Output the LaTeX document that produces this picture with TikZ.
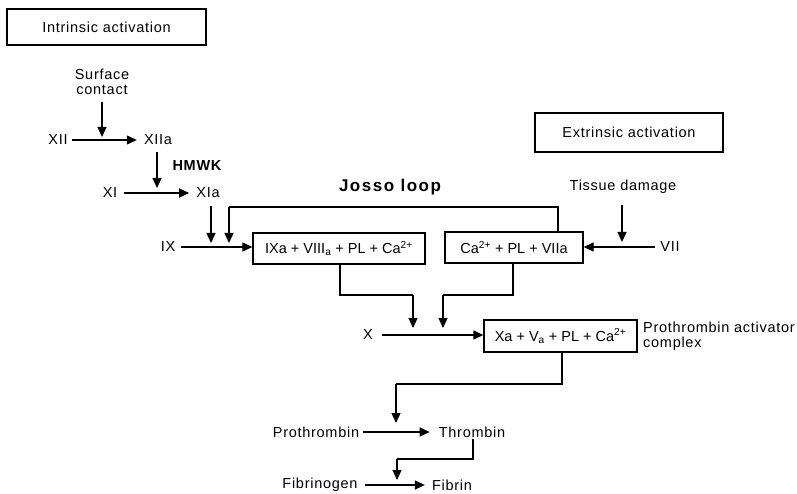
\documentclass[tikz,border=0pt]{standalone}
\usepackage{fontspec}
\setmainfont{Liberation Sans}
\usetikzlibrary{arrows.meta}

\def\fs{\fontsize{14.5}{15}\selectfont\addfontfeature{LetterSpace=5}}
\def\bs{\fontsize{14.5}{15}\selectfont}

\tikzset{
  lbl/.style = {inner sep=1pt, font=\fs},
  panel/.style = {draw, line width=1.3pt, inner sep=0pt, font=\bs},
  arr/.style = {line width=1.3pt, -{Triangle[length=10pt,width=9pt]}},
  wire/.style = {line width=1.3pt}
}

\begin{document}
\begin{tikzpicture}[x=1pt, y=-1pt]
\useasboundingbox (0,0) rectangle (797,494);

% headings
\node[panel, font=\fs, minimum width=199, minimum height=36] (intr) at (106.5,27) {Intrinsic activation};
\node[panel, font=\fs, minimum width=188, minimum height=39] (extr) at (629,132.5) {Extrinsic activation};
\node[lbl, font=\fontsize{17}{18}\selectfont\bfseries\addfontfeature{LetterSpace=9}] (josso) at (390,187) {Josso loop};

% intrinsic pathway
\node[lbl, align=center] (surf) at (102,82) {Surface\\contact};
\node[lbl] (xii) at (58,140) {XII};
\node[lbl] (xiia) at (158,140) {XIIa};
\node[lbl, font=\fs\bfseries] (hmwk) at (197,166) {HMWK};
\node[lbl] (xi) at (110,193) {XI};
\node[lbl] (xia) at (208,193) {XIa};
\node[lbl] (ix) at (168,247) {IX};
\node[panel, minimum width=172, minimum height=31] (tenase) at (339,248.5)
  {IXa + VIII\textsubscript{a} + PL + Ca\textsuperscript{2+}};

% extrinsic pathway
\node[lbl] (tissue) at (623,187) {Tissue damage};
\node[lbl] (vii) at (670,247) {VII};
\node[panel, minimum width=138, minimum height=31] (tf) at (514,247.5)
  {Ca\textsuperscript{2+} + PL + VIIa};

% common pathway
\node[lbl] (x) at (368,335) {X};
\node[panel, minimum width=153, minimum height=32] (prothr) at (560.5,336)
  {Xa + V\textsubscript{a} + PL + Ca\textsuperscript{2+}};
\node[lbl, align=left, anchor=west] (pac) at (642,336) {Prothrombin activator\\complex};
\node[lbl] (pt) at (316,432) {Prothrombin};
\node[lbl] (th) at (472,432) {Thrombin};
\node[lbl] (fg) at (320,485) {Fibrinogen};
\node[lbl] (fb) at (452,485) {Fibrin};

% free ends
\coordinate (c1) at (102,137);
\coordinate (c2) at (157,188);
\coordinate (c3) at (211,243);
\coordinate (c4) at (229,243);
\coordinate (c5) at (622,242);
\coordinate (c6) at (413,328);
\coordinate (c7) at (443,328);
\coordinate (c8) at (396,423);
\coordinate (c9) at (397,480);
% bends
\coordinate (jl) at (558,207);
\coordinate (k1) at (340,295);
\coordinate (k2) at (513,295);
\coordinate (k3) at (562,384);
\coordinate (k4) at (473,459);

% conversions
\draw[arr] ([xshift=3]xii.east) -- ([xshift=-6]xiia.west);
\draw[arr] ([xshift=6]xi.east) -- ([xshift=-6]xia.west);
\draw[arr] ([xshift=5]ix.east) -- (ix.east -| tenase.west);
\draw[arr] ([xshift=-4]vii.west) -- (vii.west -| tf.east);
\draw[arr] ([xshift=8]x.east) -- (x.east -| prothr.west);
\draw[arr] ([xshift=3]pt.east) -- ([xshift=-8]th.west);
\draw[arr] ([xshift=6]fg.east) -- ([xshift=-6]fb.west);

% activators
\draw[arr] ([yshift=-6]c1 |- surf.south) -- (c1);
\draw[arr] ([yshift=-6]c2 |- xiia.south) -- (c2);
\draw[arr] ([yshift=-7]c3 |- xia.south) -- (c3);
\draw[arr] ([yshift=-10]c5 |- tissue.south) -- (c5);
\draw[wire] (jl |- tf.north) -- (jl) -- (c4 |- jl) edge[arr] (c4);
\draw[wire] (k1 |- tenase.south) -- (k1) -- (c6 |- k1) edge[arr] (c6);
\draw[wire] (k2 |- tf.south) -- (k2) -- (c7 |- k2) edge[arr] (c7);
\draw[wire] (k3 |- prothr.south) -- (k3) -- (c8 |- k3) edge[arr] (c8);
\draw[wire] (k4 |- th.south) -- (k4) -- (c9 |- k4) edge[arr] (c9);
\end{tikzpicture}
\end{document}
